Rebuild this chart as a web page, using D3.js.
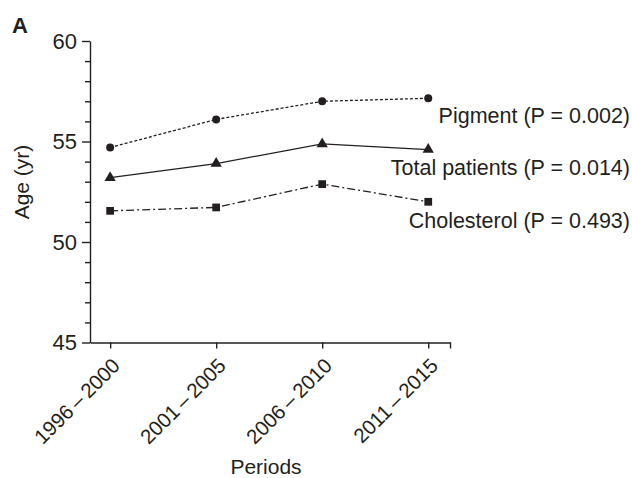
<!DOCTYPE html>
<html><head><meta charset="utf-8">
<script src="https://d3js.org/d3.v7.min.js"></script>
<style>body{margin:0;background:#fff}svg{display:block}text{font-family:"Liberation Sans",Arial,sans-serif;fill:#231f20}</style>
</head><body>
<svg id="c" width="632" height="478"></svg>
<script>
const periods = ["1996\u2009\u2013\u20092000","2001\u2009\u2013\u20092005","2006\u2009\u2013\u20092010","2011\u2009\u2013\u20092015"];
const pigment = [54.7, 56.1, 57.0, 57.15];
const total = [53.2, 53.9, 54.88, 54.6];
const cholesterol = [51.55, 51.72, 52.88, 52.0];
const seriesNames = ["Pigment (P = 0.002)","Total patients (P = 0.014)","Cholesterol (P = 0.493)"];
const yTicks = [45, 50, 55, 60];

const svg = d3.select("#c");
const ink = "#231f20";
const x = d3.scaleLinear().domain([-0.19, 3.21]).range([90, 450.5]);
const y = d3.scaleLinear().domain([45, 60]).range([342.5, 41]);

// y axis
const yAx = svg.append("g").attr("transform","translate(90,0)")
  .call(d3.axisLeft(y).tickValues(d3.range(45,61,1)).tickSize(5).tickSizeOuter(0).tickFormat(""));
yAx.selectAll(".tick line").filter(d=>yTicks.includes(d)).attr("x2",-8);
yAx.selectAll("path,line").attr("stroke",ink).attr("stroke-width",1.4);
svg.append("g").selectAll("text").data(yTicks).join("text")
  .attr("x",77).attr("y",d=>y(d)).attr("dy","0.36em").attr("text-anchor","end")
  .attr("font-size",22).text(d=>d);

// x axis
const xAx = svg.append("g").attr("transform","translate(0,342.5)")
  .call(d3.axisBottom(x).tickValues([0,1,2,3]).tickSize(6).tickSizeOuter(0).tickFormat(""));
xAx.append("line").attr("x1",450.5).attr("x2",450.5).attr("y1",0).attr("y2",6);
xAx.selectAll("path,line").attr("stroke",ink).attr("stroke-width",1.4);
svg.append("g").selectAll("text").data(periods).join("text")
  .attr("transform",(d,i)=>`translate(${x(i)+11},${367}) rotate(-45)`)
  .attr("text-anchor","end").attr("font-size",20.5).text(d=>d);

// axis titles
svg.append("text").attr("x",266).attr("y",474).attr("text-anchor","middle").attr("font-size",21).text("Periods");
svg.append("text").attr("transform","translate(29,182) rotate(-90)").attr("text-anchor","middle").attr("font-size",21).text("Age (yr)");
svg.append("text").attr("x",12).attr("y",32.5).attr("font-size",22).attr("font-weight","bold").text("A");

const line = d3.line().x((d,i)=>x(i)).y(d=>y(d));
const data = [
  {vals: pigment, dash:"3,2", shape:"circle", ly:123},
  {vals: total, dash:null, shape:"triangle", ly:175},
  {vals: cholesterol, dash:"8,3,2,3", shape:"square", ly:228}
];
data.forEach((s,k)=>{
  svg.append("path").datum(s.vals).attr("d",line).attr("fill","none")
    .attr("stroke",ink).attr("stroke-width",1.3).attr("stroke-dasharray",s.dash);
  const sym = s.shape==="circle"?d3.symbolCircle:s.shape==="triangle"?d3.symbolTriangle:d3.symbolSquare;
  const size = s.shape==="circle"?50:s.shape==="triangle"?55:60;
  svg.append("g").selectAll("path").data(s.vals).join("path")
    .attr("transform",(d,i)=>`translate(${x(i)},${y(d)})`)
    .attr("d",d3.symbol().type(sym).size(size)).attr("fill",ink);
  svg.append("text").attr("x",630).attr("y",s.ly).attr("text-anchor","end")
    .attr("font-size",21.5).text(seriesNames[k]);
});
</script>
</body></html>
